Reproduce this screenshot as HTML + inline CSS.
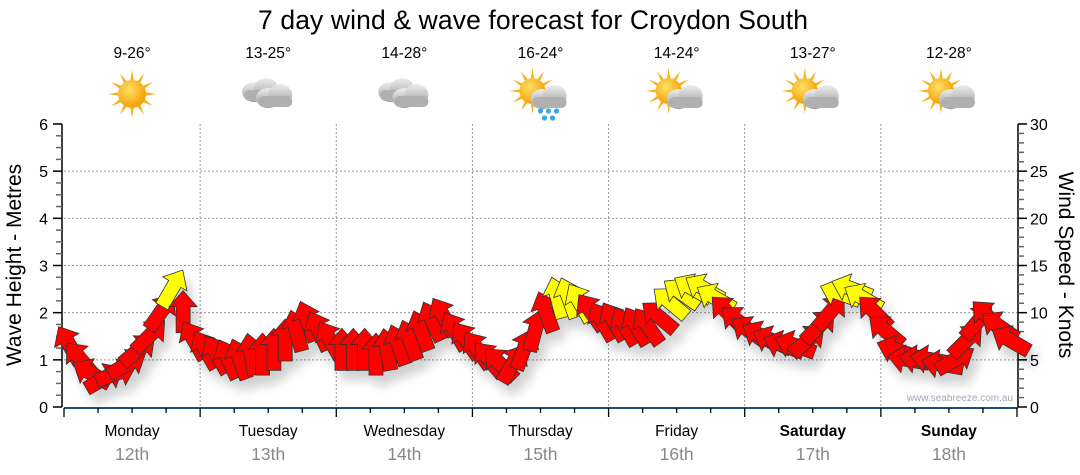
<!DOCTYPE html>
<html><head><meta charset="utf-8"><style>
body{margin:0;background:#fff;}
svg{display:block;font-family:"Liberation Sans",sans-serif;}
</style></head><body>
<svg id="chart" width="1080" height="475" viewBox="0 0 1080 475">
<defs>
<filter id="sh" x="-50%" y="-50%" width="200%" height="200%"><feGaussianBlur in="SourceAlpha" stdDeviation="5"/><feOffset dx="6" dy="10"/><feComponentTransfer><feFuncA type="linear" slope="0.18"/></feComponentTransfer><feMerge><feMergeNode/><feMergeNode in="SourceGraphic"/></feMerge></filter>
<radialGradient id="sunG" cx="40%" cy="35%" r="70%"><stop offset="0" stop-color="#ffe066"/><stop offset="1" stop-color="#f29a00"/></radialGradient>
<linearGradient id="cloudG" x1="0" y1="0" x2="0" y2="1"><stop offset="0" stop-color="#eeeeee"/><stop offset="1" stop-color="#9a9a9a"/></linearGradient>
</defs>
<text x="533" y="29" font-size="26.5" text-anchor="middle" fill="#000" textLength="550">7 day wind &amp; wave forecast for Croydon South</text>
<g id="grid"></g>
<g id="axes"></g>
<g id="icons"></g>
<g id="arrows" filter="url(#sh)"></g>
<text x="1013" y="401" font-size="10" fill="#a0a8b8" text-anchor="end">www.seabreeze.com.au</text>
<text transform="translate(21,265) rotate(-90)" font-size="21" text-anchor="middle" fill="#000">Wave Height - Metres</text>
<text transform="translate(1059,265) rotate(90)" font-size="21" text-anchor="middle" fill="#000">Wind Speed - Knots</text>
</svg>
<script>
const days=["Monday","Tuesday","Wednesday","Thursday","Friday","Saturday","Sunday"];
const dates=["12th","13th","14th","15th","16th","17th","18th"];
const temps=["9-26°","13-25°","14-28°","16-24°","14-24°","13-27°","12-28°"];
const icons=["sun","cloud","cloud","rain","partly","partly","partly"];
const waveTicks=[0,1,2,3,4,5,6];
const windTicks=[0,5,10,15,20,25,30];
const windSpeed=[6.5,5,3.5,3,3.5,4.5,6,7.5,10,12.5,10,7,
6,5.5,5,5,5.5,5.5,6,7,8,9,8,7,
6,6,6,5.5,6,6.5,7,8,9,9.5,8,7,
6,5,4.5,4.5,6,8,10,11.5,11.5,11,10,9,
9,8.5,8.5,8.5,9.5,11,12,12.5,12.5,11.5,10,9,
8,7.5,7,6.5,6.5,7,8.5,10,12,12.5,11.5,10,
8,6,5,5,5,4.5,5,7,9,9.5,8.5,7];
const windDir=[-30,-40,-60,60,70,60,50,45,35,30,0,-30,
-30,-30,-25,-20,-10,0,0,0,-15,-20,-25,-30,
0,0,0,0,-10,-20,-20,-20,-25,-30,-30,-35,
-35,-40,-45,30,20,15,-20,-15,-20,-30,-35,-30,
-30,-30,-30,-35,-50,-50,-55,-60,-60,-60,-45,-50,
-55,-60,-65,-70,-70,50,45,40,-70,-70,-60,-45,
-50,-70,-80,-80,-80,-80,60,45,40,-45,-55,-60];
const NS="http://www.w3.org/2000/svg";
const X0=64,X1=1017,Y0=407,Y1=124;
const dayW=(X1-X0)/days.length;
const yWave=v=>Y0-(v/6)*(Y0-Y1);
const yWind=v=>Y0-(v/30)*(Y0-Y1);
const xTime=i=>X0+(i+0.5)*(X1-X0)/windSpeed.length;
function mk(tag,attrs,parent){const e=document.createElementNS(NS,tag);for(const k in attrs)e.setAttribute(k,attrs[k]);parent.appendChild(e);return e;}
const grid=document.getElementById('grid'),axes=document.getElementById('axes'),ic=document.getElementById('icons'),ar=document.getElementById('arrows');
waveTicks.forEach(v=>{if(v>0&&v<6){const l=mk('line',{x1:X0,x2:X1,y1:yWave(v),y2:yWave(v),stroke:'#999','stroke-dasharray':'2,2'},grid);

}});
for(let d=1;d<days.length;d++){const x=X0+d*dayW;const l=mk('line',{x1:x,x2:x,y1:Y1,y2:Y0,stroke:'#999','stroke-dasharray':'2,2'},grid);

}
mk('line',{x1:62,x2:62,y1:Y1,y2:Y0,stroke:'#000','stroke-width':1.5},axes);
for(let k=0;k<=24;k++){const y=yWave(k/4);mk('line',{x1:k%4?56:53,x2:62,y1:y,y2:y,stroke:k%4?'#666':'#000','stroke-width':1.5},axes);}
waveTicks.forEach(v=>{const t=mk('text',{x:48,y:yWave(v)+6,'font-size':16,'text-anchor':'end',fill:'#000'},axes);t.textContent=v;

});
mk('line',{x1:1018,x2:1018,y1:Y1,y2:Y0,stroke:'#000','stroke-width':1.5},axes);
for(let k=0;k<=30;k++){const y=yWind(k);mk('line',{x1:1018,x2:k%5?1024:1027,y1:y,y2:y,stroke:k%5?'#666':'#000','stroke-width':1.5},axes);}
windTicks.forEach(v=>{const t=mk('text',{x:1030,y:yWind(v)+6,'font-size':16,fill:'#000'},axes);t.textContent=v;

});
mk('line',{x1:X0,x2:1018,y1:Y0+1,y2:Y0+1,stroke:'#1a4f7a','stroke-width':2},axes);
for(let k=0;k<=days.length*4;k++){const x=X0+k*dayW/4;mk('line',{x1:x,x2:x,y1:Y0+1,y2:k%4?Y0+6:Y0+10,stroke:'#000','stroke-width':1.3},axes);}
days.forEach((d,i)=>{const cx=X0+(i+0.5)*dayW;
const t=mk('text',{x:cx,y:436,'font-size':15.5,'text-anchor':'middle',fill:'#000','font-weight':i>=5?'bold':'normal'},axes);t.textContent=d;


const t2=mk('text',{x:cx,y:460,'font-size':17.5,'text-anchor':'middle',fill:'#888'},axes);t2.textContent=dates[i];


const t3=mk('text',{x:cx,y:58,'font-size':15.5,'text-anchor':'middle',fill:'#000'},ic);t3.textContent=temps[i];


const g=mk('g',{transform:`translate(${cx},94)`},ic);


const sun=(r,dx,dy)=>{for(let a=0;a<360;a+=30){const rad=a*Math.PI/180;mk('polygon',{points:`${dx+Math.cos(rad-0.12)*r},${dy+Math.sin(rad-0.12)*r} ${dx+Math.cos(rad)*(r+10)},${dy+Math.sin(rad)*(r+10)} ${dx+Math.cos(rad+0.12)*r},${dy+Math.sin(rad+0.12)*r}`,fill:'#f6b21a'},g);}mk('circle',{cx:dx,cy:dy,r:r,fill:'url(#sunG)'},g);};
const cloud=(dx,dy)=>{mk('ellipse',{cx:dx-6,cy:dy+2,rx:12,ry:10,fill:'url(#cloudG)'},g);mk('ellipse',{cx:dx+6,cy:dy-1,rx:12,ry:11,fill:'url(#cloudG)'},g);mk('rect',{x:dx-16,y:dy,width:34,height:11,rx:5,fill:'#b0b0b0'},g);};
if(icons[i]=='sun')sun(14,0,0);
else if(icons[i]=='cloud'){cloud(-8,-4);cloud(6,2);}
else {sun(13,-8,-3);cloud(8,3);if(icons[i]=='rain'){[[0,17],[8,17],[16,17],[4,24],[12,24]].forEach(p=>mk('circle',{cx:p[0],cy:p[1],r:2.6,fill:'#3aa7e8'},g));}}
});
windSpeed.forEach((s,i)=>{const x=xTime(i),y=yWind(s);
const p=mk('polygon',{points:'0,-22 14,-6 7,-6 7,20 -7,20 -7,-6 -14,-6',transform:`translate(${x},${y}) rotate(${windDir[i]})`,fill:s>=11?'#ffff00':'#ff0000',stroke:'#333','stroke-width':0.8},ar);

});
</script>
</body></html>
